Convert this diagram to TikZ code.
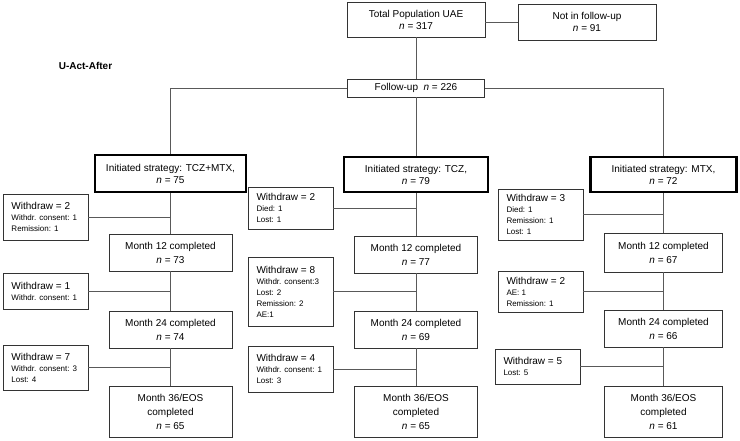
\documentclass[tikz,border=0pt]{standalone}
\usepackage{fontspec}
\setmainfont{Liberation Sans}
\usetikzlibrary{positioning}
\newcommand{\wdhead}[1]{{\fontsize{10}{11}\selectfont #1}}

\begin{document}
\begin{tikzpicture}[x=1pt,y=-1pt,-,line width=0.6pt,
    box node/.style={rectangle,draw=black!80,align=center,inner sep=0pt,font=\fontsize{10}{12}\selectfont},
    strat node/.style={box node,draw=black,line width=2.2pt},
    month node/.style={box node,minimum width=123pt,font=\fontsize{10}{14}\selectfont},
    wd node/.style={rectangle,draw=black!80,align=flush left,inner xsep=8.5pt,inner ysep=0pt,text width=68pt,font=\fontsize{8}{11}\selectfont},
    link/.style={draw=black!65,line width=0.6pt}]
    \useasboundingbox (0,0) rectangle (740,441);
    \begin{scope}
      \node[box node,minimum width=138pt,minimum height=35pt] (tot) at (416,19.5) {Total Population UAE\\\textit{n} = 317};
      \node[box node,minimum width=138pt,minimum height=36pt] (nf) at (587,22) {Not in follow-up\\\textit{n} = 91};
      \node[box node,minimum width=137pt,minimum height=18pt] (fu) at (416,88) {Follow-up\ \ \textit{n} = 226};
      \node[font=\bfseries\fontsize{10}{12}\selectfont] (lbl) at (85.5,66) {U-Act-After};

      \node[strat node,minimum width=151pt,minimum height=37pt] (s1) at (170.5,173.5) {Initiated strategy: TCZ+MTX,\\\textit{n} = 75};
      \node[strat node,minimum width=144pt,minimum height=35pt] (s2) at (416,174.5) {Initiated strategy: TCZ,\\\textit{n} = 79};
      \node[strat node,minimum width=146pt,minimum height=35pt] (s3) at (663.5,174.5) {Initiated strategy: MTX,\\\textit{n} = 72};

      % TCZ+MTX
      \node[month node,minimum height=37pt] (m1a) at (170.5,252.5) {Month 12 completed\\\textit{n} = 73};
      \node[month node,minimum height=37pt] (m1b) at (170.5,329.5) {Month 24 completed\\\textit{n} = 74};
      \node[month node,minimum height=51pt] (m1c) at (170.5,411.5) {Month 36/EOS\\completed\\\textit{n} = 65};
      \node[wd node,minimum height=46pt] (w1a) at (45.5,217) {\wdhead{Withdraw = 2}\\Withdr. consent: 1\\Remission: 1};
      \node[wd node,minimum height=36pt] (w1b) at (45.5,291) {\wdhead{Withdraw = 1}\\Withdr. consent: 1};
      \node[wd node,minimum height=45pt] (w1c) at (45.5,367.5) {\wdhead{Withdraw = 7}\\Withdr. consent: 3\\Lost: 4};

      % TCZ
      \node[month node,minimum height=37pt] (m2a) at (416,254.5) {Month 12 completed\\\textit{n} = 77};
      \node[month node,minimum height=37pt] (m2b) at (416,329.5) {Month 24 completed\\\textit{n} = 69};
      \node[month node,minimum height=51pt] (m2c) at (416,411.5) {Month 36/EOS\\completed\\\textit{n} = 65};
      \node[wd node,minimum height=42pt] (w2a) at (290.5,208) {\wdhead{Withdraw = 2}\\Died: 1\\Lost: 1};
      \node[wd node,minimum height=69pt] (w2b) at (290.5,291.5) {\wdhead{Withdraw = 8}\\Withdr. consent:3\\Lost: 2\\Remission: 2\\AE:1};
      \node[wd node,minimum height=46pt] (w2c) at (290.5,369) {\wdhead{Withdraw = 4}\\Withdr. consent: 1\\Lost: 3};

      % MTX
      \node[month node,minimum width=118pt,minimum height=39pt] (m3a) at (663.5,252.5) {Month 12 completed\\\textit{n} = 67};
      \node[month node,minimum width=118pt,minimum height=37pt] (m3b) at (663.5,328.5) {Month 24 completed\\\textit{n} = 66};
      \node[month node,minimum width=118pt,minimum height=51pt] (m3c) at (663.5,411.5) {Month 36/EOS\\completed\\\textit{n} = 61};
      \node[wd node,minimum height=51pt] (w3a) at (540.5,214.5) {\wdhead{Withdraw = 3}\\Died: 1\\Remission: 1\\Lost: 1};
      \node[wd node,minimum height=41pt] (w3b) at (540.5,291.5) {\wdhead{Withdraw = 2}\\AE: 1\\Remission: 1};
      \node[wd node,minimum height=35pt] (w3c) at (537.5,366.5) {\wdhead{Withdraw = 5}\\Lost: 5};

      \path[link] (nf.west) edge (nf.west -| tot.east);
      \path[link] (tot) edge (fu);
      \draw[link] (fu.west) -| (s1.north);
      \draw[link] (fu.east) -| (s3.north);
      \path[link] (fu) edge (s2);
      \path[link] (s1) edge (m1a) (m1a) edge (m1b) (m1b) edge (m1c);
      \path[link] (s2) edge (m2a) (m2a) edge (m2b) (m2b) edge (m2c);
      \path[link] (s3) edge (m3a) (m3a) edge (m3b) (m3b) edge (m3c);
      \path[link] (w1a.east) edge (w1a.east -| s1) (w1b.east) edge (w1b.east -| s1) (w1c.east) edge (w1c.east -| s1);
      \path[link] (w2a.east) edge (w2a.east -| s2) (w2b.east) edge (w2b.east -| s2) (w2c.east) edge (w2c.east -| s2);
      \path[link] (w3a.east) edge (w3a.east -| s3) (w3b.east) edge (w3b.east -| s3) (w3c.east) edge (w3c.east -| s3);
    \end{scope}
  \end{tikzpicture}
\end{document}
